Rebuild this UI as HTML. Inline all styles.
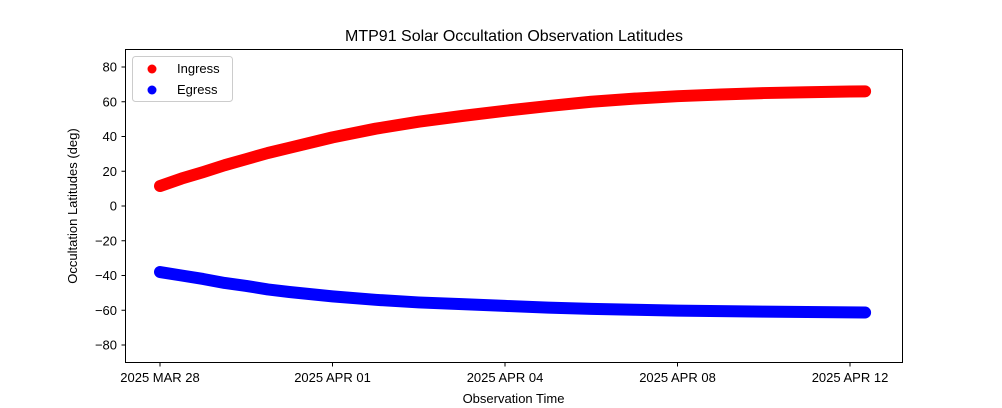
<!DOCTYPE html>
<html><head><meta charset="utf-8"><style>
html,body{margin:0;padding:0;background:#fff;}
svg{display:block;font-family:"Liberation Sans","DejaVu Sans",sans-serif;}
</style></head><body>
<svg id="chart" width="1002" height="408" viewBox="0 0 1002 408">
<rect width="1002" height="408" fill="#fff"/>
<text x="514" y="41" font-size="16" text-anchor="middle">MTP91 Solar Occultation Observation Latitudes</text>
<g id="grid"></g>
<g id="series"></g>
<rect x="125.5" y="49.5" width="777" height="313" fill="none" stroke="#000" stroke-width="1"/>
<text x="513.5" y="403" font-size="13" text-anchor="middle">Observation Time</text>
<text transform="translate(77,206) rotate(-90)" font-size="13" text-anchor="middle">Occultation Latitudes (deg)</text>
<g>
<rect x="132.5" y="56.5" width="100" height="45" rx="3" fill="#fff" stroke="#ccc"/>
<circle cx="152" cy="69" r="4.5" fill="#f00"/>
<text x="177" y="73" font-size="13">Ingress</text>
<circle cx="152" cy="90" r="4.5" fill="#00f"/>
<text x="177" y="94" font-size="13">Egress</text>
</g>
</svg>
<script>
const days = [0,0.5,1,1.5,2,2.5,3,4,5,6,7,8,9,10,11,12,13,14,15,16,16.35];
const ingress = [11.5,15.8,19.5,23.5,27,30.5,33.5,39.5,44.5,48.5,51.8,54.8,57.5,60,61.8,63.2,64.2,65,65.5,65.9,66];
const egress = [-38,-40,-42,-44.3,-46,-48,-49.5,-52,-54,-55.5,-56.5,-57.5,-58.5,-59.2,-59.7,-60.2,-60.5,-60.8,-61,-61.2,-61.3];
const xTickVals = [0,4,8,12,16];
const xTickLabels = ["2025 MAR 28","2025 APR 01","2025 APR 04","2025 APR 08","2025 APR 12"];
const yTickVals = [-80,-60,-40,-20,0,20,40,60,80];

const NS="http://www.w3.org/2000/svg";
function xs(d){return 160+43.125*d;}
function ys(v){return 206-1.7375*v;}
const grid=document.getElementById('grid');
const ser=document.getElementById('series');
function mk(tag,attrs,parent){const e=document.createElementNS(NS,tag);for(const k in attrs)e.setAttribute(k,attrs[k]);parent.appendChild(e);return e;}
xTickVals.forEach((v,i)=>{
  const x=xs(v);
  const t=mk('line',{x1:x,x2:x,y1:362.5,y2:366.5,stroke:'#000'},grid);
  
  
  const l=mk('text',{x:x,y:382,'font-size':13,'text-anchor':'middle'},grid);
  l.textContent=xTickLabels[i];
  
  
});
yTickVals.forEach(v=>{
  const y=ys(v);
  const t=mk('line',{x1:121.5,x2:125.5,y1:y,y2:y,stroke:'#000'},grid);
  
  
  const l=mk('text',{x:117,y:y+4.5,'font-size':13,'text-anchor':'end'},grid);
  l.textContent=String(v).replace('-','\u2212');
  
  
});
function drawSeries(vals,color,name){
  const pts=days.map((d,i)=>xs(d)+','+ys(vals[i])).join(' ');
  const pl=mk('polyline',{points:pts,fill:'none',stroke:color,'stroke-width':12,'stroke-linecap':'round','stroke-linejoin':'round'},ser);
  
  
  days.forEach((d,i)=>{
    const c=mk('circle',{cx:xs(d),cy:ys(vals[i]),r:5.5,fill:color},ser);
    
    
  });
}
drawSeries(ingress,'#f00','ingress');
drawSeries(egress,'#00f','egress');
</script>
</body></html>
